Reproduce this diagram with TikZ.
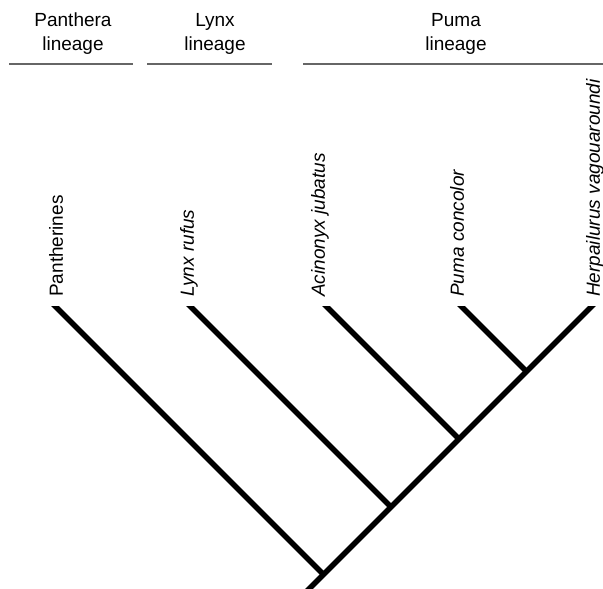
\documentclass[tikz,border=0pt]{standalone}
\usepackage{fontspec}
\setmainfont{Liberation Sans}
\usepackage{tikz}

\begin{document}
\begin{tikzpicture}[x=1pt,y=1pt]
\tikzstyle{every node}+=[inner sep=0pt]
\tikzstyle{branch}=[black, line width=5.5pt]
\tikzstyle{rule}=[black!60, line width=1.3pt]
\tikzstyle{head}=[align=center, anchor=south, font=\fontsize{19}{24}\selectfont]
\tikzstyle{leaf}=[rotate=90, anchor=west, font=\fontsize{19}{23}\selectfont]
\tikzstyle{species}=[leaf, font=\fontsize{19}{23}\selectfont\itshape]
\useasboundingbox (0,0) rectangle (603,589);
\node [head] (pantherahead) at (73,534) {Panthera\\lineage};
\node [head] (lynxhead) at (215,534) {Lynx\\lineage};
\node [head] (pumahead) at (456,534) {Puma\\lineage};
\coordinate (pantheraruleA) at (9,525);
\coordinate (pantheraruleB) at (133,525);
\coordinate (lynxruleA) at (147,525);
\coordinate (lynxruleB) at (272,525);
\coordinate (pumaruleA) at (303,525);
\coordinate (pumaruleB) at (603,525);
\draw [rule] (pantheraruleA) -- (pantheraruleB);
\draw [rule] (lynxruleA) -- (lynxruleB);
\draw [rule] (pumaruleA) -- (pumaruleB);
\coordinate (pan) at (56,282);
\coordinate (lyn) at (191,282);
\coordinate (aci) at (327,282);
\coordinate (pum) at (462,282);
\coordinate (her) at (591,282);
\coordinate (jpan) at (323.5,14.5);
\coordinate (jlyn) at (391,82);
\coordinate (jaci) at (459,150);
\coordinate (jpum) at (526.5,217.5);
\begin{scope}
\clip (0,0) rectangle (603,282);
\draw [branch, shorten <=-12pt, shorten >=-30pt] (her) -- (jpan);
\draw [branch, shorten <=-12pt] (pan) -- (jpan);
\draw [branch, shorten <=-12pt] (lyn) -- (jlyn);
\draw [branch, shorten <=-12pt] (aci) -- (jaci);
\draw [branch, shorten <=-12pt] (pum) -- (jpum);
\end{scope}
\node [leaf] (pantherines) at (56,292) {Pantherines};
\node [species] (lynxrufus) at (189,292) {Lynx rufus};
\node [species] (acinonyx) at (320,292) {Acinonyx jubatus};
\node [species] (pumaconcolor) at (457,292) {Puma concolor};
\node [species] (herpailurus) at (595,292) {Herpailurus vagouaroundi};
\end{tikzpicture}
\end{document}
